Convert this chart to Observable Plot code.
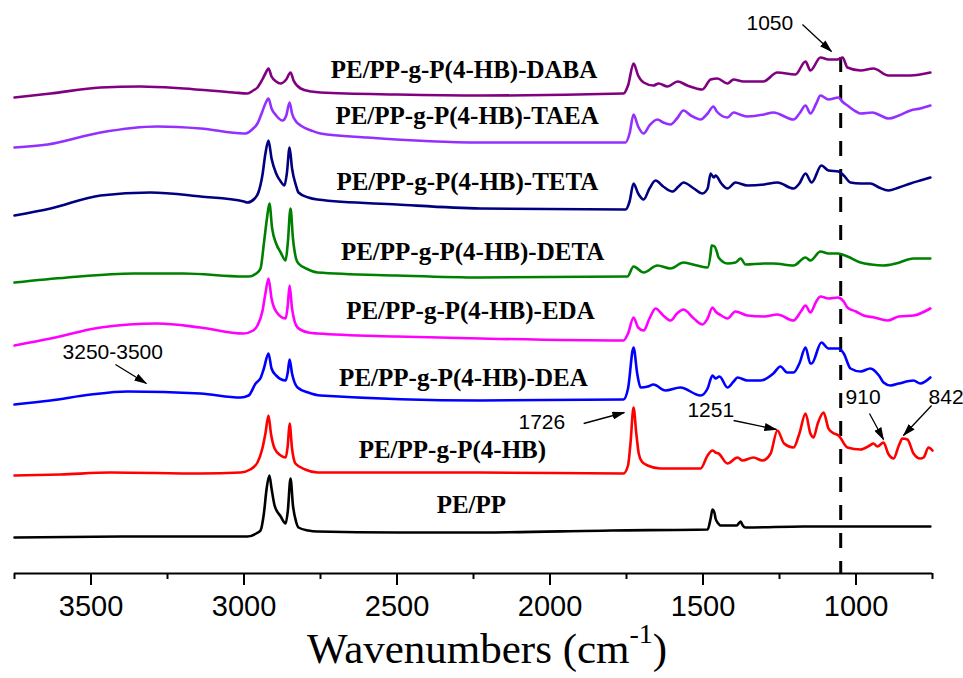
<!DOCTYPE html>
<html><head><meta charset="utf-8">
<script src="https://cdn.jsdelivr.net/npm/d3@7"></script>
<script src="https://cdn.jsdelivr.net/npm/@observablehq/plot@0.6"></script>
<style>
body{margin:0;background:#fff;}
#wrap{position:relative;width:963px;height:678px;overflow:hidden;background:#fff;}
#xtitle{position:absolute;left:307px;top:627px;font-family:"Liberation Serif","Times New Roman",serif;font-size:43px;line-height:43px;white-space:nowrap;color:#000;}
#xtitle .sup{font-size:28px;position:relative;top:-20px;}
</style></head>
<body><div id="wrap"><div id="chart"></div><div id="xtitle">Wavenumbers (cm<span class="sup">-1</span>)</div></div>
<script>
// ---- data: [wavenumber (cm-1), absorbance (a.u., stacked)] ----
const seriesNames = ["PE/PP", "PE/PP-g-P(4-HB)", "PE/PP-g-P(4-HB)-DEA", "PE/PP-g-P(4-HB)-EDA",
  "PE/PP-g-P(4-HB)-DETA", "PE/PP-g-P(4-HB)-TETA", "PE/PP-g-P(4-HB)-TAEA", "PE/PP-g-P(4-HB)-DABA"];
const seriesColors = ["#000000", "#ff0000", "#0000ff", "#ff00ff", "#008000", "#000080", "#9430ff", "#800080"];

const PE_PP = [[3750,36],[3400,37],[3000,37],[2989,37],[2960,40],[2946,43],[2935,60],[2926,85],[2917,98],[2910,85],[2900,68],[2880,57],[2864,50],[2857,62],[2848,95],[2840,68],[2830,52],[2822,46],[2790,43],[2760,42],[2500,41],[2227,41],[1800,43],[1485,44],[1475,55],[1469,64],[1462,60],[1459,55],[1450,50],[1443,48],[1390,48],[1377,52],[1370,48],[1361,46],[1172,47],[1000,47],[900,47],[757,47]];
const HB = [[3750,98],[3600,99],[3436,101],[3142,100],[3011,101],[2980,104],[2956,111],[2940,125],[2930,140],[2920,158],[2912,140],[2900,125],[2880,118],[2864,116],[2857,128],[2851,150],[2843,125],[2832,110],[2800,104],[2760,101],[2227,101],[1760,100],[1745,108],[1737,130],[1727,166],[1718,140],[1710,120],[1700,112],[1681,108],[1639,105],[1508,105],[1485,118],[1469,123],[1459,121],[1449,120],[1420,110],[1387,116],[1371,113],[1335,116],[1306,113],[1279,120],[1257,143],[1235,130],[1204,126],[1185,140],[1165,160],[1149,140],[1139,136],[1125,150],[1106,161],[1090,145],[1077,141],[1057,138],[1028,126],[985,124],[955,128],[943,130],[930,127],[910,131],[895,120],[877,115],[860,128],[848,135],[832,134],[812,120],[790,115],[779,116],[763,126],[750,123]];
const DEA = [[3750,169],[3632,173],[3500,179],[3381,182],[3142,180],[3011,176],[2985,178],[2962,190],[2945,196],[2935,205],[2920,220],[2910,205],[2895,198],[2864,193],[2857,201],[2851,214],[2843,200],[2825,186],[2790,181],[2750,178],[2227,173],[1760,174],[1745,185],[1727,226],[1715,200],[1704,186],[1680,187],[1662,189],[1623,183],[1574,186],[1508,178],[1485,185],[1469,198],[1459,195],[1446,197],[1420,186],[1400,192],[1387,196],[1355,193],[1312,193],[1270,200],[1247,207],[1225,201],[1204,201],[1185,210],[1165,226],[1149,210],[1145,210],[1113,231],[1090,225],[1057,225],[1040,220],[1018,205],[985,202],[953,205],[925,198],[910,191],[887,188],[860,190],[812,193],[790,190],[757,196]];
const EDA = [[3750,228],[3632,235],[3469,246],[3283,250],[3142,246],[3002,240],[2970,243],[2956,248],[2940,262],[2930,280],[2920,295],[2910,275],[2895,262],[2864,255],[2857,268],[2851,288],[2843,265],[2825,246],[2790,241],[2760,240],[2500,237],[2227,235],[1760,233],[1745,240],[1727,256],[1712,246],[1694,243],[1675,255],[1655,265],[1630,258],[1606,253],[1585,260],[1564,264],[1530,255],[1502,249],[1485,255],[1469,266],[1459,262],[1440,258],[1420,255],[1394,262],[1355,258],[1300,257],[1257,259],[1204,253],[1180,262],[1165,268],[1149,261],[1130,272],[1116,277],[1090,275],[1060,276],[1040,272],[1028,266],[1000,262],[975,258],[940,256],[897,253],[860,257],[812,258],[757,265]];
const DETA = [[3750,291],[3577,296],[3361,300],[3198,300],[3000,297],[2985,297],[2960,300],[2946,305],[2935,330],[2925,355],[2917,370],[2908,345],[2895,330],[2880,321],[2864,313],[2857,330],[2848,365],[2840,335],[2830,315],[2822,310],[2790,304],[2760,301],[2500,298],[2227,296],[1747,297],[1727,307],[1694,301],[1649,308],[1606,305],[1564,311],[1520,308],[1485,306],[1475,320],[1472,328],[1462,327],[1455,322],[1449,316],[1420,310],[1394,311],[1377,315],[1361,309],[1300,310],[1270,310],[1204,308],[1165,316],[1149,313],[1116,322],[1090,320],[1060,320],[1028,317],[985,311],[950,309],[910,308],[870,310],[812,315],[757,315]];
const TETA = [[3750,358],[3632,365],[3469,378],[3306,381],[3142,377],[3000,372],[2989,371],[2965,375],[2953,381],[2940,398],[2930,420],[2920,433],[2910,415],[2895,400],[2880,392],[2868,388],[2860,400],[2851,426],[2843,405],[2830,388],[2822,381],[2790,376],[2760,374],[2500,369],[2227,365],[1753,364],[1740,372],[1727,390],[1712,380],[1694,374],[1675,385],[1655,393],[1630,387],[1600,382],[1580,387],[1564,391],[1530,385],[1502,380],[1485,385],[1475,400],[1465,396],[1459,398],[1440,390],[1420,385],[1394,391],[1355,388],[1300,389],[1257,391],[1204,385],[1185,390],[1165,400],[1145,391],[1113,408],[1090,403],[1057,402],[1040,398],[1018,391],[985,390],[953,390],[925,386],[894,383],[860,386],[822,390],[790,393],[757,396]];
const TAEA = [[3750,426],[3642,429],[3469,441],[3283,447],[3142,445],[3000,440],[2995,440],[2970,445],[2956,450],[2940,462],[2930,470],[2920,475],[2910,465],[2895,458],[2874,453],[2862,458],[2851,471],[2843,460],[2830,452],[2815,448],[2780,443],[2750,440],[2596,436],[2227,431],[1753,431],[1740,440],[1727,459],[1712,447],[1694,440],[1675,448],[1649,454],[1630,451],[1606,449],[1585,455],[1564,463],[1540,458],[1508,454],[1485,460],[1466,467],[1455,462],[1420,456],[1400,461],[1380,459],[1355,457],[1300,459],[1270,461],[1204,454],[1185,460],[1165,468],[1149,460],[1130,470],[1116,478],[1090,474],[1057,476],[1045,472],[1028,468],[1000,462],[985,460],[946,461],[920,458],[894,455],[860,458],[822,463],[790,465],[757,468]];
const DABA = [[3750,476],[3632,480],[3469,486],[3338,487],[3198,485],[3034,481],[2989,480],[2970,483],[2956,486],[2940,494],[2930,500],[2920,505],[2910,497],[2895,492],[2881,490],[2862,494],[2848,501],[2838,493],[2815,485],[2780,482],[2750,481],[2500,479],[2227,478],[1760,480],[1745,488],[1727,510],[1712,498],[1694,491],[1662,488],[1645,490],[1616,487],[1583,492],[1551,488],[1502,484],[1475,494],[1453,495],[1420,490],[1400,494],[1368,492],[1303,492],[1257,501],[1198,499],[1165,512],[1149,503],[1116,516],[1090,514],[1060,514],[1044,516],[1028,506],[985,503],[943,505],[894,498],[822,498],[757,501]];
const seriesData = [PE_PP, HB, DEA, EDA, DETA, TETA, TAEA, DABA];

// axis ticks
const majorTicks = [3500, 3000, 2500, 2000, 1500, 1000];
const minorTicks = [3750, 3250, 2750, 2250, 1750, 1250, 750];
const markedBand = 1050;

// series labels, anchored in data space (wavenumber, absorbance)
const labelWn = [2257, 2319, 2283, 2260, 2253, 2270, 2271, 2281];
const labelAbs = [61, 116, 188, 255, 314, 384, 450, 496];

// peak annotations
const noteText = ["1050", "3250-3500", "1726", "1251", "910", "842"];
const noteWn = [1358, 3593, 2103, 1551, 1034, 763];
const noteAbs = [544, 215, 145, 157, 170, 170];
const arrowFrom = [[1175,549],[3420,209],[1890,150],[1400,153],[956,160],[753,168]];
const arrowTo = [[1080,522],[3319,190],[1757,161],[1260,144],[910,134],[845,138]];

// ---- build ----
const labelRows = seriesNames.map((s, i) => ({s, x: labelWn[i], y: labelAbs[i]}));
const noteRows = noteText.map((t, i) => ({t, x: noteWn[i], y: noteAbs[i]}));
const arrowRows = arrowFrom.map((f, i) => ({x1: f[0], y1: f[1], x2: arrowTo[i][0], y2: arrowTo[i][1]}));

const lineMarks = seriesData.map((d, i) =>
  Plot.line(d, {x: d => d[0], y: d => d[1], stroke: seriesColors[i], strokeWidth: 2.6, curve: "monotone-x"}));

const svg = Plot.plot({
  width: 963, height: 625,
  marginLeft: 14, marginRight: 31, marginTop: 0, marginBottom: 52,
  x: {domain: [3750, 750], label: null},
  y: {domain: [0, 573], axis: null},
  style: {fontFamily: "'Liberation Sans', Arial, sans-serif", background: "white", overflow: "visible"},
  marks: [
    Plot.ruleX([markedBand], {y1: 516, y2: 0, stroke: "black", strokeWidth: 3, strokeDasharray: "15,13"}),
    ...lineMarks,
    Plot.ruleY([0], {stroke: "black", strokeWidth: 2}),
    Plot.axisX({ticks: majorTicks, tickSize: 12, tickPadding: 10, strokeWidth: 2, fontSize: 29, tickFormat: d => String(d), label: null, fill: "black"}),
    Plot.axisX({ticks: minorTicks, tickSize: 6, strokeWidth: 2, tickFormat: () => "", label: null}),
    Plot.text(labelRows, {x: "x", y: "y", text: "s", textAnchor: "middle", lineAnchor: "bottom",
      fontFamily: "'Liberation Serif', 'Times New Roman', serif", fontWeight: "bold", fontSize: 25, fill: "black"}),
    Plot.text(noteRows, {x: "x", y: "y", text: "t", textAnchor: "start", lineAnchor: "bottom", fontSize: 21, fill: "black"}),
    Plot.link(arrowRows, {x1: "x1", y1: "y1", x2: "x2", y2: "y2", stroke: "black", strokeWidth: 1.3})
  ]
});

// filled arrowheads
const ns = "http://www.w3.org/2000/svg";
const defs = document.createElementNS(ns, "defs");
const marker = document.createElementNS(ns, "marker");
marker.setAttribute("id", "ahead");
marker.setAttribute("viewBox", "0 -4 13 8");
marker.setAttribute("refX", "12");
marker.setAttribute("refY", "0");
marker.setAttribute("markerWidth", "13");
marker.setAttribute("markerHeight", "8");
marker.setAttribute("markerUnits", "userSpaceOnUse");
marker.setAttribute("orient", "auto");
const mp = document.createElementNS(ns, "path");
mp.setAttribute("d", "M0,-4L13,0L0,4Z");
mp.setAttribute("fill", "black");
marker.appendChild(mp);
defs.appendChild(marker);
svg.insertBefore(defs, svg.firstChild);
svg.querySelectorAll('g[aria-label="link"] path').forEach(p => p.setAttribute("marker-end", "url(#ahead)"));

document.getElementById("chart").appendChild(svg);
</script>
</body></html>
